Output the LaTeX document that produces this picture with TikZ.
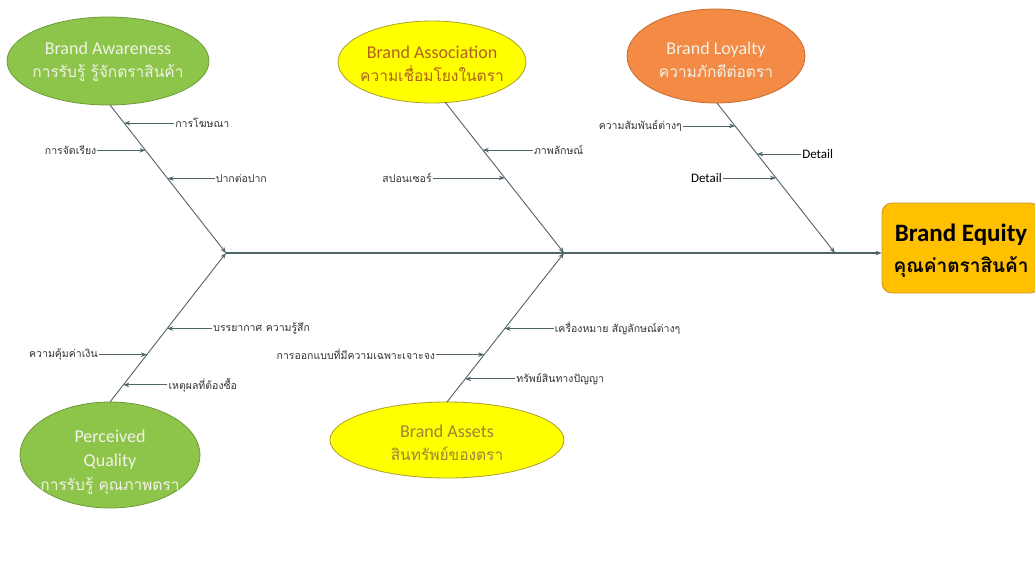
\documentclass[tikz,border=0pt]{standalone}
\usepackage{fontspec}
\setmainfont{Carlito}
\newfontfamily\thai[Script=Thai]{Loma}
\usetikzlibrary{shapes.geometric,arrows.meta,calc}
\definecolor{grfill}{HTML}{8DC54B}
\definecolor{grline}{HTML}{6E9A3A}
\definecolor{yefill}{HTML}{FFFF00}
\definecolor{yeline}{HTML}{A9A030}
\definecolor{orfill}{HTML}{F38A45}
\definecolor{orline}{HTML}{C96A2C}
\definecolor{eqfill}{HTML}{FFC000}
\definecolor{eqline}{HTML}{C8962A}
\definecolor{bone}{HTML}{4E6469}
\definecolor{lighttxt}{HTML}{F2F2E6}
\definecolor{brtxt}{HTML}{B0621C}
\definecolor{oltxt}{HTML}{9A8535}
\definecolor{lbltxt}{HTML}{333333}
\tikzset{
  ell/.style={ellipse, draw, line width=0.8pt, inner sep=0pt},
  etxt/.style={align=center, font=\fontsize{18}{23}\selectfont},
  lbl/.style={font=\thai\fontsize{10.5}{12}\selectfont, text=lbltxt, inner sep=1pt},
  dlbl/.style={font=\fontsize{13}{15}\selectfont, text=black, inner sep=1pt},
  bonel/.style={draw=bone, line width=0.9pt},
  tip/.style={-{Stealth[length=6pt,width=4.5pt]}},
  rib/.style={bonel, tip},
}
\newcommand{\thaiell}{\thai\fontsize{15.5}{20}\selectfont}
\begin{document}
\begin{tikzpicture}[x=1pt,y=-1pt]
\useasboundingbox (0,0) rectangle (1035,560);
\fill[white] (0,0) rectangle (1035,560);

% ellipses
\node[ell, fill=grfill, draw=grline, minimum width=202, minimum height=88] (aw) at (108,61) {};
\node[etxt, text=lighttxt] (awt) at ([yshift=-1]aw) {Brand Awareness\\{\thaiell การรับรู้ รู้จักตราสินค้า}};
\node[ell, fill=yefill, draw=yeline, minimum width=188, minimum height=82] (as) at (432,62) {};
\node[etxt, text=brtxt] (ast) at ([yshift=-2]as) {Brand Association\\{\thaiell ความเชื่อมโยงในตรา}};
\node[ell, fill=orfill, draw=orline, minimum width=178, minimum height=94] (lo) at (716,56) {};
\node[etxt, text=lighttxt] (lot) at ([yshift=-4]lo) {Brand Loyalty\\{\thaiell ความภักดีต่อตรา}};
\node[ell, fill=grfill, draw=grline, minimum width=180, minimum height=106] (pq) at (110,455) {};
\node[etxt, text=lighttxt, font=\fontsize{18}{24}\selectfont] (pqt) at ([yshift=-7]pq) {Perceived\\Quality\\{\thaiell การรับรู้ คุณภาพตรา}};
\node[ell, fill=yefill, draw=yeline, minimum width=234, minimum height=76] (at) at (447,440) {};
\node[etxt, text=oltxt] (att) at ([yshift=-3]at) {Brand Assets\\{\thaiell สินทรัพย์ของตรา}};

% brand equity box
\node[draw=eqline, fill=eqfill, rounded corners=10pt, line width=0.8pt,
      minimum width=158, minimum height=90] (be) at (961,248) {};
\node[align=center, font=\bfseries\fontsize{25}{31}\selectfont] (bet) at (961,251)
      {Brand Equity\\{\thai\bfseries\fontsize{19}{26}\selectfont คุณค่าตราสินค้า}};

% bone ends
\coordinate (awb) at (110,105);
\coordinate (asb) at (445,102);
\coordinate (lob) at (717,103);
\coordinate (pqb) at (110,402);
\coordinate (atb) at (447,402);
\coordinate (J1) at (226,253);
\coordinate (J2) at (564,253);
\coordinate (J3) at (835,253);

% spine and bones
\draw[bonel, line width=1.4pt, tip] (J1) -- (J1 -| be.west);
\draw[bonel, tip] (awb) -- (J1);
\draw[bonel, tip] (pqb) -- (J1);
\draw[bonel, tip] (asb) -- (J2);
\draw[bonel, tip] (atb) -- (J2);
\draw[bonel, tip] (lob) -- (J3);

% Brand Awareness ribs
\coordinate (aw1) at ($(awb)!0.122!(J1)$);
\coordinate (aw2) at ($(awb)!0.306!(J1)$);
\coordinate (aw3) at ($(awb)!0.497!(J1)$);
\node[lbl, anchor=west] (aw1t) at ([xshift=50]aw1) {การโฆษณา};
\node[lbl, anchor=east] (aw2t) at ([xshift=-48]aw2) {การจัดเรียง};
\node[lbl, anchor=west] (aw3t) at ([xshift=47]aw3) {ปากต่อปาก};
\draw[rib] (aw1t.west) -- (aw1);
\draw[rib] (aw2t.east) -- (aw2);
\draw[rib] (aw3t.west) -- (aw3);

% Brand Association ribs
\coordinate (as1) at ($(asb)!0.318!(J2)$);
\coordinate (as2) at ($(asb)!0.503!(J2)$);
\node[lbl, anchor=west] (as1t) at ([xshift=50]as1) {ภาพลักษณ์};
\node[lbl, anchor=east] (as2t) at ([xshift=-72]as2) {สปอนเซอร์};
\draw[rib] (as1t.west) -- (as1);
\draw[rib] (as2t.east) -- (as2);

% Brand Loyalty ribs
\coordinate (lo1) at ($(lob)!0.153!(J3)$);
\coordinate (lo2) at ($(lob)!0.34!(J3)$);
\coordinate (lo3) at ($(lob)!0.50!(J3)$);
\node[lbl, anchor=east] (lo1t) at ([xshift=-52]lo1) {ความสัมพันธ์ต่างๆ};
\node[dlbl, anchor=west] (lo2t) at ([xshift=44]lo2) {Detail};
\node[dlbl, anchor=east] (lo3t) at ([xshift=-53]lo3) {Detail};
\draw[rib] (lo1t.east) -- (lo1);
\draw[rib] (lo2t.west) -- (lo2);
\draw[rib] (lo3t.east) -- (lo3);

% Perceived Quality ribs
\coordinate (pq1) at ($(pqb)!0.493!(J1)$);
\coordinate (pq2) at ($(pqb)!0.318!(J1)$);
\coordinate (pq3) at ($(pqb)!0.115!(J1)$);
\node[lbl, anchor=west] (pq1t) at ([xshift=45]pq1) {บรรยากาศ ความรู้สึก};
\node[lbl, anchor=east] (pq2t) at ([xshift=-48]pq2) {ความคุ้มค่าเงิน};
\node[lbl, anchor=west] (pq3t) at ([xshift=44]pq3) {เหตุผลที่ต้องซื้อ};
\draw[rib] (pq1t.west) -- (pq1);
\draw[rib] (pq2t.east) -- (pq2);
\draw[rib] (pq3t.west) -- (pq3);

% Brand Assets ribs
\coordinate (at1) at ($(atb)!0.493!(J2)$);
\coordinate (at2) at ($(atb)!0.318!(J2)$);
\coordinate (at3) at ($(atb)!0.155!(J2)$);
\node[lbl, anchor=west] (at1t) at ([xshift=49]at1) {เครื่องหมาย สัญลักษณ์ต่างๆ};
\node[lbl, anchor=east] (at2t) at ([xshift=-48]at2) {การออกแบบที่มีความเฉพาะเจาะจง};
\node[lbl, anchor=west] (at3t) at ([xshift=50]at3) {ทรัพย์สินทางปัญญา};
\draw[rib] (at1t.west) -- (at1);
\draw[rib] (at2t.east) -- (at2);
\draw[rib] (at3t.west) -- (at3);
\end{tikzpicture}
\end{document}
